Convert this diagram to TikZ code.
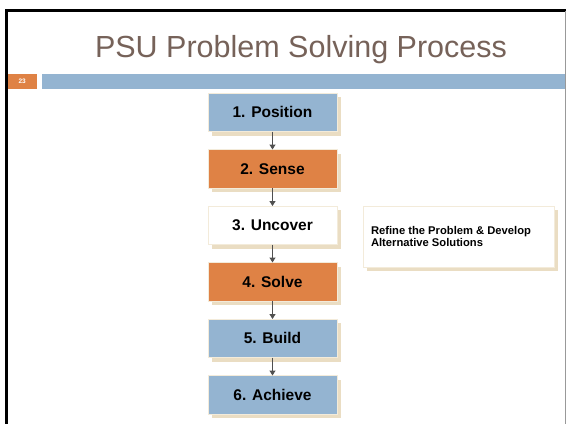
\documentclass[tikz,border=0pt]{standalone}
\usepackage{fontspec}
\setmainfont{Liberation Sans}
\usetikzlibrary{positioning}
\usetikzlibrary{arrows.meta}
\usetikzlibrary{shadows}

\definecolor{slideblue}{HTML}{94B4D1}
\definecolor{slideorange}{HTML}{DF8245}
\definecolor{shadowbeige}{HTML}{EADDC3}
\definecolor{edgecream}{HTML}{F3EBDA}
\definecolor{titlebrown}{HTML}{766259}
\definecolor{arrowgrey}{HTML}{505050}

\tikzset{
	stepbox/.style={minimum width=129pt,minimum height=38.5pt,inner sep=0pt,outer sep=0pt,draw=edgecream,line width=.6pt,
		font=\fontsize{15.5}{18}\selectfont\bfseries,
		drop shadow={shadow xshift=4pt,shadow yshift=-4pt,fill=shadowbeige,opacity=1}},
	sidebox/.style={minimum width=191pt,minimum height=61pt,text width=175pt,inner sep=8pt,outer sep=0pt,align=flush left,
		draw=edgecream,line width=.6pt,fill=white,font=\fontsize{11.2}{11.5}\selectfont\bfseries,
		drop shadow={shadow xshift=4pt,shadow yshift=-4pt,fill=shadowbeige,opacity=1}},
	flowarrow/.style={draw=arrowgrey,line width=1.6pt,-{Triangle[length=5pt,width=6pt]}}
}

\begin{document}
\begin{tikzpicture}[x=1pt,y=-1pt]
	\useasboundingbox (0,0) rectangle (567,424);

	% slide frame
	\draw[black,line width=3pt] (5,10.3) -- (566,10.3);
	\draw[black,line width=3pt] (6.5,9) -- (6.5,424);
	\draw[gray!80,line width=1pt] (565.5,11) -- (565.5,424);

	% title and header bar
	\node [anchor=base,text=titlebrown,font=\fontsize{30.5}{36}\selectfont] at (301,57.7) (title) {PSU Problem Solving Process};
	\node [minimum width=28.5pt,minimum height=15.5pt,inner sep=0pt,outer sep=0pt,fill=slideorange,text=white,font=\fontsize{6.5}{7}\selectfont\bfseries,anchor=north west] at (8,73.5) (slidenum) {23};
	\node [minimum width=523pt,minimum height=15.5pt,inner sep=0pt,outer sep=0pt,fill=slideblue,right=5.5pt of slidenum] (bar) {};

	% process steps
	\node [stepbox,fill=slideblue,anchor=north] at (272.5,93) (pos) {1. Position};
	\node [stepbox,fill=slideorange,below=18pt of pos] (sense) {2. Sense};
	\node [stepbox,fill=white,below=18pt of sense] (uncover) {3. Uncover};
	\node [stepbox,fill=slideorange,below=18pt of uncover] (solve) {4. Solve};
	\node [stepbox,fill=slideblue,below=18pt of solve] (build) {5. Build};
	\node [stepbox,fill=slideblue,below=18pt of build] (achieve) {6. Achieve};

	\node [sidebox,right=26pt of uncover.north east,anchor=north west] (refine) {Refine the Problem \& Develop Alternative Solutions};

	\draw[flowarrow] (pos) -- (sense);
	\draw[flowarrow] (sense) -- (uncover);
	\draw[flowarrow] (uncover) -- (solve);
	\draw[flowarrow] (solve) -- (build);
	\draw[flowarrow] (build) -- (achieve);
\end{tikzpicture}
\end{document}
